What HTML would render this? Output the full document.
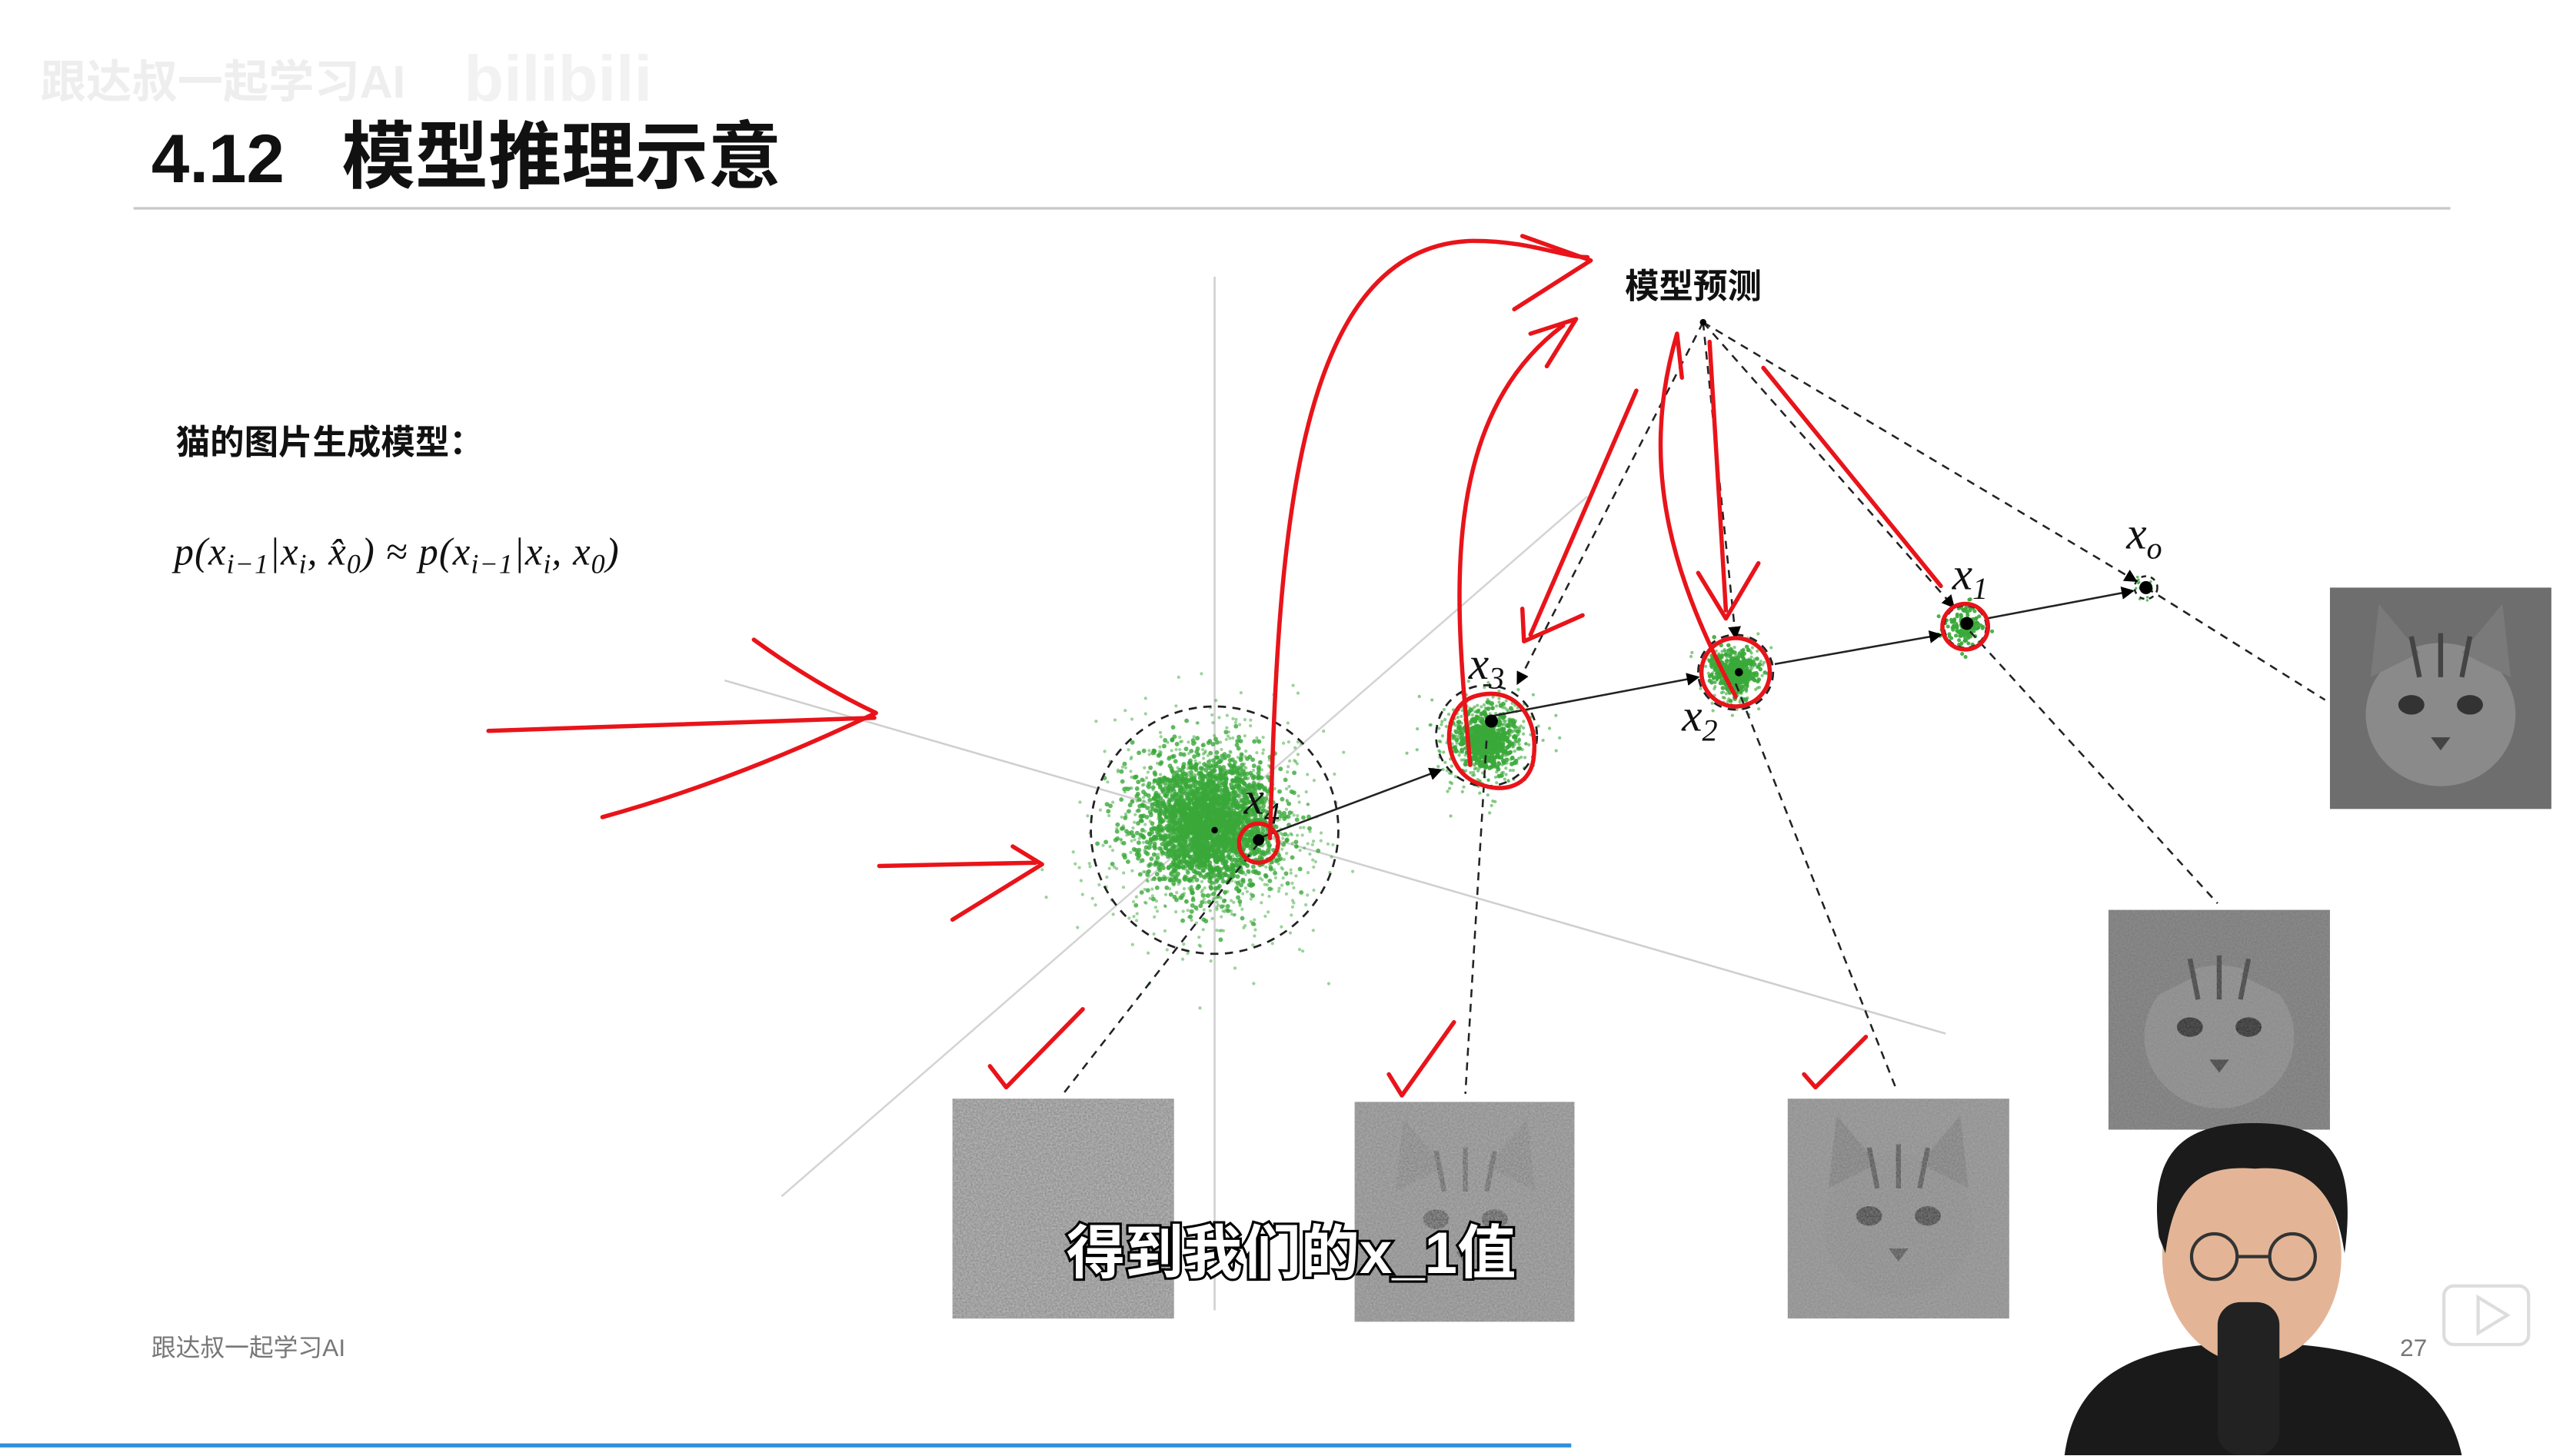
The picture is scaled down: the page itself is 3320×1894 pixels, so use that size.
<!DOCTYPE html>
<html><head><meta charset="utf-8">
<style>
html,body{margin:0;padding:0;background:#fff;}
svg{display:block;}
text{font-family:"Liberation Sans","Noto Sans CJK SC",sans-serif;}
.m{font-family:"Liberation Serif","DejaVu Serif",serif;font-style:italic;}
</style></head><body>
<svg id="s" width="3320" height="1894" viewBox="0 0 1568 894.5" preserveAspectRatio="none" xmlns="http://www.w3.org/2000/svg">
<defs>
<filter id="nz" x="0" y="0" width="100%" height="100%">
<feTurbulence type="fractalNoise" baseFrequency="0.9" numOctaves="2" seed="3"/>
<feColorMatrix type="matrix" values="0 0 0 0 0.5  0 0 0 0 0.5  0 0 0 0 0.5  0 0 0 1.2 -0.1"/>
</filter>
<marker id="ah" markerWidth="8" markerHeight="8" refX="7" refY="4" orient="auto" markerUnits="userSpaceOnUse"><path d="M0,0 L8,4 L0,8 Z" fill="#000"/></marker>
<g id="cat">
<ellipse cx="68" cy="78" rx="46" ry="44" fill="#8a8a8a"/>
<path d="M25,55 L30,10 L55,40 Z M111,55 L106,10 L81,40 Z" fill="#7a7a7a"/>
<ellipse cx="50" cy="72" rx="8" ry="6" fill="#333"/><ellipse cx="86" cy="72" rx="8" ry="6" fill="#333"/>
<path d="M62,92 L74,92 L68,100 Z" fill="#444"/>
<path d="M50,30 L55,55 M68,28 L68,55 M86,30 L81,55" stroke="#444" stroke-width="3"/>
</g>
</defs>

<!-- watermark -->
<text x="25" y="60" font-size="28" fill="#eeeeee" font-weight="bold">跟达叔一起学习AI</text>
<text x="285" y="62" font-size="40" fill="#f2f2f2" font-weight="bold">bilibili</text>

<!-- title -->
<text x="93" y="112" font-size="42" font-weight="bold" fill="#111">4.12</text>
<text x="210" y="112" font-size="45" font-weight="bold" fill="#111">模型推理示意</text>
<line x1="82" y1="128" x2="1505" y2="128" stroke="#c8c8c8" stroke-width="1.5"/>

<text x="108" y="279" font-size="21" font-weight="bold" fill="#111">猫的图片生成模型：</text>
<text x="107" y="347" font-size="24" class="m" fill="#111" letter-spacing="0.5">p(x<tspan font-size="17" dy="5">i−1</tspan><tspan dy="-5">|x</tspan><tspan font-size="17" dy="5">i</tspan><tspan dy="-5">, x̂</tspan><tspan font-size="17" dy="5">0</tspan><tspan dy="-5">) ≈ p(x</tspan><tspan font-size="17" dy="5">i−1</tspan><tspan dy="-5">|x</tspan><tspan font-size="17" dy="5">i</tspan><tspan dy="-5">, x</tspan><tspan font-size="17" dy="5">0</tspan><tspan dy="-5">)</tspan></text>

<!-- gray axis lines -->
<line x1="746" y1="170" x2="746" y2="805" stroke="#cfcfcf" stroke-width="1.2"/>
<line x1="445" y1="418" x2="1195" y2="635" stroke="#cfcfcf" stroke-width="1.2"/>
<line x1="480" y1="735" x2="975" y2="305" stroke="#d4d4d4" stroke-width="1.2"/>

<g id="dots"></g>

<!-- dashed circles -->
<circle cx="746" cy="510" r="76" fill="none" stroke="#222" stroke-width="1.3" stroke-dasharray="5,4"/>
<circle cx="913" cy="452" r="31" fill="none" stroke="#222" stroke-width="1.3" stroke-dasharray="5,4"/>
<circle cx="1066" cy="413" r="23" fill="none" stroke="#222" stroke-width="1.3" stroke-dasharray="5,4"/>
<circle cx="1207" cy="385" r="13" fill="none" stroke="#222" stroke-width="1.3" stroke-dasharray="4,3"/>
<circle cx="1318" cy="361" r="7" fill="none" stroke="#222" stroke-width="1.2" stroke-dasharray="3,3"/>

<!-- solid arrows -->
<g stroke="#222" stroke-width="1.2" fill="none" marker-end="url(#ah)">
<line x1="773" y1="515" x2="885" y2="473"/>
<line x1="916" y1="440" x2="1043" y2="416"/>
<line x1="1090" y1="408" x2="1192" y2="390"/>
<line x1="1220" y1="380" x2="1310" y2="363"/>
</g>
<g stroke="#222" stroke-width="1.2" fill="none" stroke-dasharray="5,4" marker-end="url(#ah)">
<line x1="1046" y1="198" x2="932" y2="420"/>
<line x1="1046" y1="198" x2="1066" y2="392"/>
<line x1="1046" y1="198" x2="1200" y2="373"/>
<line x1="1046" y1="198" x2="1312" y2="357"/>
</g>
<g stroke="#222" stroke-width="1.2" fill="none" stroke-dasharray="5,4">
<line x1="1318" y1="361" x2="1428" y2="430"/>
<line x1="1210" y1="388" x2="1362" y2="555"/>
<line x1="1066" y1="420" x2="1165" y2="670"/>
<line x1="913" y1="455" x2="900" y2="672"/>
<line x1="773" y1="518" x2="653" y2="672"/>
</g>
<g fill="#000">
<circle cx="1046" cy="198" r="2"/><circle cx="773" cy="516" r="3.5"/><circle cx="746" cy="510" r="2"/>
<circle cx="916" cy="443" r="4"/><circle cx="1068" cy="413" r="2.5"/><circle cx="1208" cy="383" r="4"/><circle cx="1318" cy="361" r="4"/>
</g>

<text x="998" y="183" font-size="21" font-weight="bold" fill="#111">模型预测</text>
<g class="m" fill="#111" font-size="28">
<text x="764" y="500" class="m">x<tspan font-size="19" dy="6">4</tspan></text>
<text x="902" y="417" class="m">x<tspan font-size="19" dy="6">3</tspan></text>
<text x="1033" y="449" class="m">x<tspan font-size="19" dy="6">2</tspan></text>
<text x="1199" y="362" class="m">x<tspan font-size="19" dy="6">1</tspan></text>
<text x="1306" y="337" class="m">x<tspan font-size="19" dy="6">o</tspan></text>
</g>

<!-- images -->
<g>
<rect x="585" y="675" width="136" height="135" fill="#888"/>
<rect x="585" y="675" width="136" height="135" filter="url(#nz)"/>
<g transform="translate(832,677)"><rect width="135" height="135" fill="#8a8a8a"/><use href="#cat" opacity="0.6"/><rect width="135" height="135" filter="url(#nz)" opacity="0.7"/></g>
<g transform="translate(1098,675)"><rect width="136" height="135" fill="#8d8d8d"/><use href="#cat" opacity="0.8"/><rect width="136" height="135" filter="url(#nz)" opacity="0.5"/></g>
<g transform="translate(1295,559)"><rect width="136" height="135" fill="#7a7a7a"/><use href="#cat"/><rect width="136" height="135" filter="url(#nz)" opacity="0.3"/></g>
<g transform="translate(1431,361)"><rect width="136" height="136" fill="#6e6e6e"/><use href="#cat"/></g>
</g>

<!-- red annotations -->
<g stroke="#e8141a" stroke-width="2.6" fill="none" stroke-linecap="round" stroke-linejoin="round">
<path d="M300,449 L537,441"/>
<path d="M463,393 Q500,420 538,438 Q450,480 370,502"/>
<path d="M540,532 L636,530"/>
<path d="M622,520 L640,531 L585,565"/>
<path d="M780,515 C785,350 790,150 905,148 C940,148 960,158 975,158"/>
<path d="M935,145 L977,160 L930,190"/>
<path d="M903,470 C895,380 880,260 960,200"/>
<path d="M940,205 L968,196 L950,225"/>
<path d="M1005,240 L940,390"/>
<path d="M935,374 L936,394 L972,378"/>
<path d="M1066,428 C1030,360 1005,290 1030,205 L1033,232"/>
<path d="M1050,210 L1060,375"/>
<path d="M1043,352 L1060,380 L1080,346"/>
<path d="M1083,226 L1192,360"/>
<circle cx="773" cy="518" r="12"/>
<path d="M905,428 C930,420 945,440 942,465 C940,485 920,488 905,480 C885,470 885,435 905,428Z"/>
<circle cx="1066" cy="413" r="21"/>
<circle cx="1207" cy="385" r="14"/>
<path d="M608,655 L618,668 L665,620"/>
<path d="M853,660 L861,673 L893,628"/>
<path d="M1108,660 L1115,668 L1146,637"/>
</g>

<!-- footer -->
<text x="93" y="833" font-size="15" fill="#777">跟达叔一起学习AI</text>
<text x="1474" y="833" font-size="15" fill="#777">27</text>
<line x1="0" y1="888" x2="965" y2="888" stroke="#2f8fe0" stroke-width="2.5"/>

<!-- person -->
<g>
<path d="M1268,894 C1275,840 1320,825 1383,825 C1450,825 1500,840 1512,894 Z" fill="#1a1a1a"/>
<rect x="1364" y="815" width="14" height="30" fill="#d9a98a"/>
<ellipse cx="1383" cy="772" rx="55" ry="66" fill="#e3b596"/>
<path d="M1326,760 C1318,700 1350,690 1385,690 C1430,690 1448,710 1440,770 C1435,735 1420,715 1385,718 C1350,715 1335,730 1330,770 Z" fill="#1b1b1b"/>
<g stroke="#333" stroke-width="2" fill="none"><circle cx="1360" cy="772" r="14"/><circle cx="1408" cy="772" r="14"/><line x1="1374" y1="772" x2="1394" y2="772"/></g>
<rect x="1362" y="800" width="38" height="94" rx="14" fill="#222"/>
</g>
<path d="M1507,790 h40 a6,6 0 0 1 6,6 v24 a6,6 0 0 1 -6,6 h-40 a6,6 0 0 1 -6,-6 v-24 a6,6 0 0 1 6,-6z" fill="none" stroke="#ddd" stroke-width="2"/>
<path d="M1522,797 L1540,808 L1522,819 Z" fill="none" stroke="#ddd" stroke-width="2"/>

<!-- subtitle -->
<text x="793" y="782" text-anchor="middle" font-size="36" font-weight="bold" fill="#fff" stroke="#000" stroke-width="3" paint-order="stroke">得到我们的x_1值</text>
</svg>
<script>
(function(){
var g=document.getElementById('dots'),s=1234;
function r(){s=(s*16807)%2147483647;return s/2147483647;}
function n(){return Math.sqrt(-2*Math.log(r()+1e-9))*Math.cos(2*Math.PI*r());}
function cl(cx,cy,sd,N,rad,op){var h='';for(var i=0;i<N;i++){var x=cx+n()*sd,y=cy+n()*sd;h+='<circle cx="'+x.toFixed(1)+'" cy="'+y.toFixed(1)+'" r="'+rad+'" fill="#3aa83a" opacity="'+op+'"/>';}return h;}
g.innerHTML=cl(746,510,34,900,1,0.5)+cl(742,505,20,2500,1.4,0.8)+cl(913,455,14,500,1,0.6)+cl(913,455,8,500,1.4,0.9)+cl(1066,413,10,200,1,0.6)+cl(1066,413,6,400,1.3,0.9)+cl(1207,385,6,150,1.2,0.9)+cl(1318,361,3,20,0.8,0.8);
})();
</script>
</body></html>
